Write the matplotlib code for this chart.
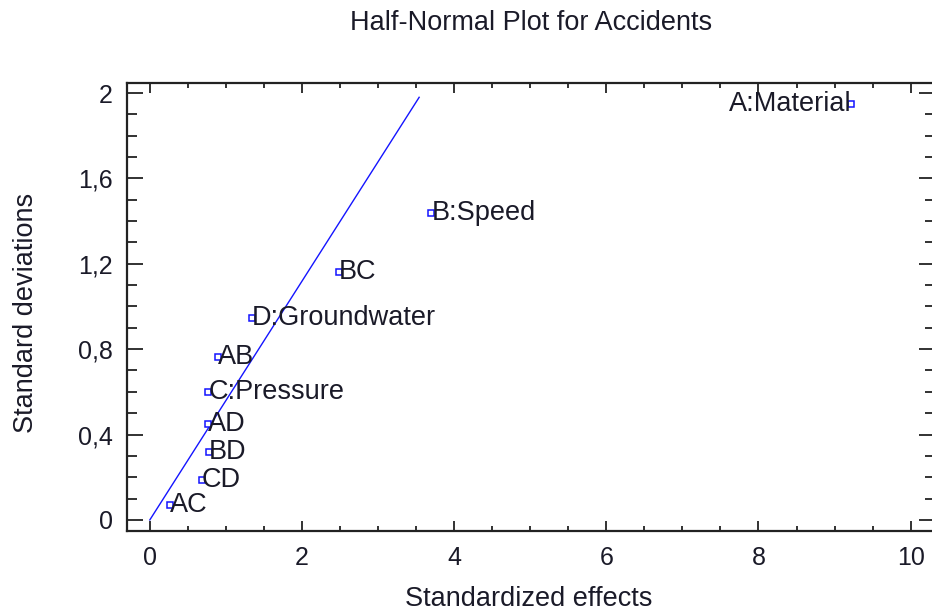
import matplotlib
matplotlib.use("Agg")
import matplotlib.pyplot as plt
from matplotlib.ticker import MultipleLocator, FuncFormatter

plt.rcParams['font.family'] = ['Liberation Sans', 'DejaVu Sans']

labels = ["A:Material", "B:Speed", "BC", "D:Groundwater", "AB",
          "C:Pressure", "AD", "BD", "CD", "AC"]
effects = [9.22, 3.70, 2.48, 1.34, 0.90, 0.77, 0.77, 0.78, 0.68, 0.26]
stdevs = [1.95, 1.44, 1.16, 0.944, 0.762, 0.598, 0.45, 0.316, 0.188, 0.07]
line_x = [0.0, 3.54]
line_y = [0.0, 1.98]

title = "Half-Normal Plot for Accidents"
xlabel = "Standardized effects"
ylabel = "Standard deviations"

W, H = 932, 612
fig = plt.figure(figsize=(W / 100, H / 100), dpi=100)
l, r, t, b = 127, 935, 83, 531
ax = fig.add_axes([l / W, 1 - b / H, (r - l) / W, (b - t) / H])

blue = "#1414ff"
txt = "#1a1a28"
FS_TEXT = 19.5
FS_TICK = 18
ax.plot(line_x, line_y, color=blue, lw=1.0)
ax.plot(effects, stdevs, linestyle="none", marker="s", ms=4.5,
        mfc="white", mec=blue, mew=1.1)
for lab, x, y in zip(labels, effects, stdevs):
    if x > 8:
        ax.text(x, y, lab, ha="right", va="center", fontsize=FS_TEXT, color=txt)
    else:
        ax.text(x, y, lab, ha="left", va="center", fontsize=FS_TEXT, color=txt)

ax.set_xlim(-0.3, 10.32)
ax.set_ylim(-0.052, 2.047)
ax.xaxis.set_major_locator(MultipleLocator(2))
ax.xaxis.set_minor_locator(MultipleLocator(0.5))
ax.yaxis.set_major_locator(MultipleLocator(0.4))
ax.yaxis.set_minor_locator(MultipleLocator(0.1))
ax.yaxis.set_major_formatter(FuncFormatter(
    lambda v, p: ("%g" % round(v, 1)).replace(".", ",")))
ax.xaxis.set_major_formatter(FuncFormatter(lambda v, p: "%g" % v))

ax.tick_params(which="both", direction="in", top=True, right=True,
               colors="#222222", labelcolor=txt, labelsize=FS_TICK, width=1.3)
ax.tick_params(axis="x", which="major", length=7, pad=11)
ax.tick_params(axis="x", which="minor", length=3.5)
ax.tick_params(axis="y", which="major", length=11.5, pad=10)
ax.tick_params(axis="y", which="minor", length=7)
for s in ax.spines.values():
    s.set_linewidth(1.6)
    s.set_color("#222222")

fig.text(531 / W, 1 - 23 / H, title, ha="center", va="center",
         fontsize=FS_TEXT, color=txt)
fig.text(529 / W, 1 - 599 / H, xlabel, ha="center", va="center",
         fontsize=FS_TEXT, color=txt)
fig.text(26 / W, 1 - 313 / H, ylabel, ha="center", va="center",
         rotation=90, fontsize=FS_TEXT, color=txt)

fig.savefig("out.png", dpi=100)
